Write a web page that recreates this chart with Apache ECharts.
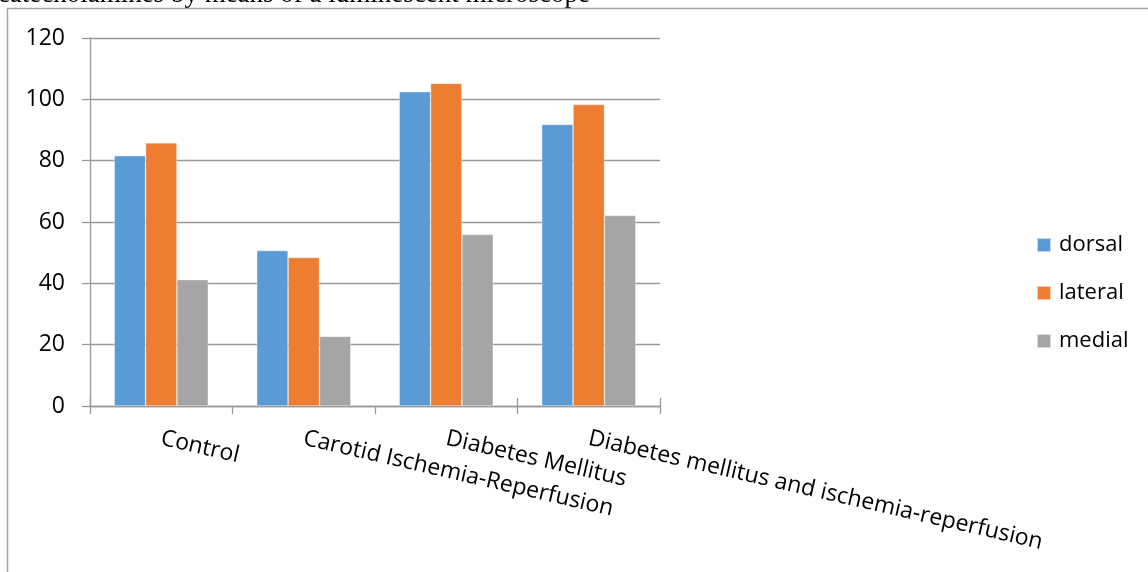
<!DOCTYPE html>
<html>
<head>
<meta charset="utf-8">
<script src="https://cdn.jsdelivr.net/npm/echarts@6/dist/echarts.min.js"></script>
<style>
  html, body { margin: 0; padding: 0; background: #fff; }
  #chart { width: 1148px; height: 572px; }
</style>
</head>
<body>
<div id="chart"></div>
<script>
// Groups and measured means per region
const categories = ['Control', 'Carotid Ischemia-Reperfusion', 'Diabetes Mellitus', 'Diabetes mellitus and ischemia-reperfusion'];
const dorsal  = [81.6, 50.7, 102.5, 91.8];
const lateral = [85.8, 48.4, 105.2, 98.3];
const medial  = [41.2, 22.7, 55.9, 62.1];
const seriesNames = ['dorsal', 'lateral', 'medial'];
const seriesColors = ['#5B9BD5', '#ED7D31', '#A5A5A5'];
const captionText = 'catecholamines by means of a luminescent microscope';

const FONT = '"Open Sans"';
const chart = echarts.init(document.getElementById('chart'), null, { renderer: 'canvas' });

const values = [dorsal, lateral, medial];
const series = seriesNames.map((name, i) => ({
  name,
  type: 'bar',
  xAxisIndex: 0,
  data: values[i],
  barGap: '0%',
  barCategoryGap: '34%',
  itemStyle: { color: seriesColors[i], borderColor: 'rgba(255,255,255,0.6)', borderWidth: 0.6 }
}));

chart.setOption({
  animation: false,
  textStyle: { fontFamily: FONT },
  graphic: [
    {
      // caption line of the surrounding document, cut off at the top edge
      type: 'text',
      x: 590,
      y: 8,
      style: { text: captionText, font: '27px "Liberation Serif"', fill: '#000', align: 'right', verticalAlign: 'bottom' }
    },
    {
      type: 'rect',
      shape: { x: 7.5, y: 8.5, width: 1200, height: 600 },
      style: { fill: 'none', stroke: '#A6A6A6', lineWidth: 1.5 }
    }
  ],
  legend: {
    orient: 'vertical',
    left: 1031,
    top: 228,
    itemWidth: 14,
    itemHeight: 14,
    itemGap: 24,
    icon: 'rect',
    textStyle: { fontFamily: FONT, fontSize: 22, lineHeight: 24, color: '#000', padding: [0, 0, 0, 3] },
    data: seriesNames
  },
  grid: { left: 90, right: 488, top: 38, bottom: 166, containLabel: false },
  xAxis: [
    {
      type: 'category',
      data: categories,
      axisLine: { lineStyle: { color: '#999', width: 1.3 } },
      axisTick: { show: true, length: 8, lineStyle: { color: '#999', width: 1.3 } },
      axisLabel: { rotate: -13, margin: 32, fontSize: 23, color: '#000', fontFamily: FONT, interval: 0 }
    },
    {
      type: 'category',
      data: categories,
      position: 'bottom',
      axisLine: { show: false },
      axisTick: { show: true, inside: true, length: 8, lineStyle: { color: '#999', width: 1.3 } },
      axisLabel: { show: false }
    }
  ],
  yAxis: {
    type: 'value',
    min: 0,
    max: 120,
    interval: 20,
    axisLine: { show: true, lineStyle: { color: '#999', width: 1.3 } },
    axisTick: { show: true, length: 8, lineStyle: { color: '#999', width: 1.3 } },
    axisLabel: { margin: 25, fontSize: 23, color: '#000', fontFamily: FONT },
    splitLine: { lineStyle: { color: '#999', width: 1.3 } }
  },
  series
});
</script>
</body>
</html>
